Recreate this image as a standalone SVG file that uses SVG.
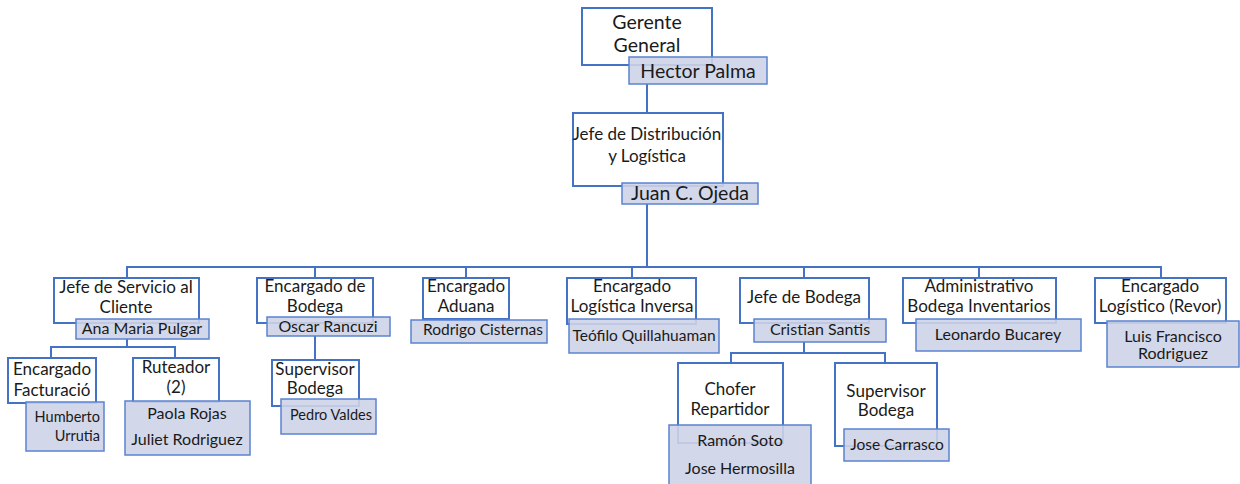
<svg xmlns="http://www.w3.org/2000/svg" width="1240" height="484" viewBox="0 0 1240 484">
  <style>
    .box { fill: #ffffff; stroke: #4472c4; stroke-width: 2; }
    .name { fill: #cdd3e8; fill-opacity: 0.9; stroke: #5b83cf; stroke-width: 1.5; }
    .link { fill: none; stroke: #4472c4; stroke-width: 2; }
    text { font-family: Lato, "Noto Sans", sans-serif; fill: #1a1a1a; text-anchor: middle; }
    .t { font-size: 17px; }
    .n { font-size: 16px; }
    .s { font-size: 14.5px; }
    .m { font-size: 15.5px; }
    .big { font-size: 19.5px; }
  </style>
  <rect width="1240" height="484" fill="#ffffff"/>

  <!-- connectors -->
  <g id="connectors">
    <path class="link" d="M647 84 V113"/>
    <path class="link" d="M647 204 V267"/>
    <path class="link" d="M127 278 V267 H1161 V278"/>
    <path class="link" d="M315 267 V278"/>
    <path class="link" d="M466 267 V278"/>
    <path class="link" d="M632 267 V278"/>
    <path class="link" d="M804 267 V278"/>
    <path class="link" d="M979 267 V278"/>
    <path class="link" d="M127 339 V347 M51 358 V347 H175 V358"/>
    <path class="link" d="M315 336 V360"/>
    <path class="link" d="M804 342 V353 M731 363 V353 H885 V363"/>
  </g>

  <g id="gerente-general">
    <rect class="box" x="582" y="8" width="130" height="57"/>
    <text class="big" x="647" y="29">Gerente</text>
    <text class="big" x="647" y="52">General</text>
    <rect class="name" x="629" y="57" width="138" height="27"/>
    <text class="big" x="698" y="78">Hector Palma</text>
  </g>

  <g id="jefe-distribucion">
    <rect class="box" x="573" y="113" width="150" height="73"/>
    <text class="t" x="647" y="140">Jefe de Distribución</text>
    <text class="t" x="647" y="162">y Logística</text>
    <rect class="name" x="622" y="183" width="136" height="21"/>
    <text class="big" x="690" y="200">Juan C. Ojeda</text>
  </g>

  <g id="jefe-servicio-cliente">
    <rect class="box" x="54" y="278" width="145" height="45"/>
    <text class="t" x="126" y="293">Jefe de Servicio al</text>
    <text class="t" x="126" y="313">Cliente</text>
    <rect class="name" x="76" y="319" width="133" height="20"/>
    <text class="n" x="142" y="334">Ana Maria Pulgar</text>
  </g>

  <g id="encargado-facturacion">
    <rect class="box" x="8" y="358" width="88" height="45"/>
    <text class="t" x="52" y="375">Encargado</text>
    <text class="t" x="52" y="396">Facturació</text>
    <rect class="name" x="26" y="402" width="78" height="49"/>
    <text class="s" x="100" y="422" style="text-anchor:end">Humberto</text>
    <text class="s" x="100" y="441" style="text-anchor:end">Urrutia</text>
  </g>

  <g id="ruteador">
    <rect class="box" x="133" y="358" width="86" height="44"/>
    <text class="t" x="176" y="373">Ruteador</text>
    <text class="t" x="176" y="393">(2)</text>
    <rect class="name" x="125" y="401" width="125" height="54"/>
    <text class="n" x="187" y="419">Paola Rojas</text>
    <text class="n" x="187" y="445">Juliet Rodriguez</text>
  </g>

  <g id="encargado-bodega">
    <rect class="box" x="257" y="278" width="116" height="45"/>
    <text class="t" x="315" y="292">Encargado de</text>
    <text class="t" x="315" y="312">Bodega</text>
    <rect class="name" x="267" y="317" width="123" height="19"/>
    <text class="n" x="328" y="332">Oscar Rancuzi</text>
  </g>

  <g id="supervisor-bodega-1">
    <rect class="box" x="272" y="360" width="87" height="46"/>
    <text class="t" x="315" y="375">Supervisor</text>
    <text class="t" x="315" y="394">Bodega</text>
    <rect class="name" x="281" y="399" width="95" height="35"/>
    <text class="s" x="331" y="420">Pedro Valdes</text>
  </g>

  <g id="encargado-aduana">
    <rect class="box" x="423" y="278" width="86" height="41"/>
    <text class="t" x="466" y="292">Encargado</text>
    <text class="t" x="466" y="312">Aduana</text>
    <rect class="name" x="411" y="320" width="136" height="23"/>
    <text class="m" x="483" y="335">Rodrigo Cisternas</text>
  </g>

  <g id="encargado-logistica-inversa">
    <rect class="box" x="567" y="278" width="129" height="46"/>
    <text class="t" x="632" y="292">Encargado</text>
    <text class="t" x="632" y="312">Logística Inversa</text>
    <rect class="name" x="569" y="319" width="150" height="34"/>
    <text class="m" x="644" y="341">Teófilo Quillahuaman</text>
  </g>

  <g id="jefe-bodega">
    <rect class="box" x="740" y="278" width="129" height="45"/>
    <text class="t" x="804" y="303">Jefe de Bodega</text>
    <rect class="name" x="754" y="319" width="132" height="23"/>
    <text class="n" x="820" y="335">Cristian Santis</text>
  </g>

  <g id="chofer-repartidor">
    <rect class="box" x="678" y="363" width="105" height="80"/>
    <text class="t" x="730" y="395">Chofer</text>
    <text class="t" x="730" y="415">Repartidor</text>
    <rect class="name" x="669" y="425" width="142" height="62"/>
    <text class="n" x="740" y="446">Ramón Soto</text>
    <text class="n" x="740" y="474">Jose Hermosilla</text>
  </g>

  <g id="supervisor-bodega-2">
    <rect class="box" x="835" y="363" width="102" height="83"/>
    <text class="t" x="886" y="397">Supervisor</text>
    <text class="t" x="886" y="416">Bodega</text>
    <rect class="name" x="844" y="429" width="105" height="32"/>
    <text class="m" x="897" y="450">Jose Carrasco</text>
  </g>

  <g id="administrativo-bodega">
    <rect class="box" x="903" y="278" width="153" height="45"/>
    <text class="t" x="979" y="292">Administrativo</text>
    <text class="t" x="979" y="312">Bodega Inventarios</text>
    <rect class="name" x="916" y="319" width="165" height="32"/>
    <text class="n" x="998" y="340">Leonardo Bucarey</text>
  </g>

  <g id="encargado-logistico-revor">
    <rect class="box" x="1095" y="278" width="131" height="45"/>
    <text class="t" x="1160" y="292">Encargado</text>
    <text class="t" x="1160" y="312">Logístico (Revor)</text>
    <rect class="name" x="1107" y="321" width="132" height="46"/>
    <text class="n" x="1173" y="342">Luis Francisco</text>
    <text class="n" x="1173" y="359">Rodriguez</text>
  </g>
</svg>
